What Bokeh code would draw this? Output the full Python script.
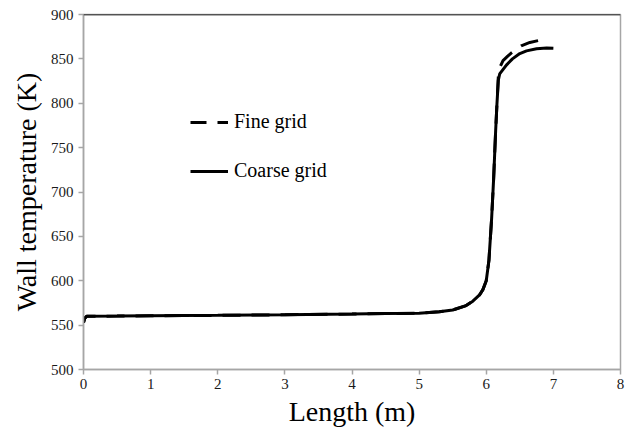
from bokeh.plotting import figure
from bokeh.models import Range1d, SingleIntervalTicker, Legend, LegendItem, Span
from bokeh.embed import file_html
from bokeh.resources import INLINE

# Coarse grid
coarse_x = [0.0, 0.02, 0.05, 0.5, 1.0, 2.0, 3.0, 4.0, 4.5, 5.0, 5.3, 5.5, 5.7, 5.8, 5.9, 5.95,
            6.0, 6.04, 6.08, 6.11, 6.14, 6.16, 6.18, 6.2, 6.24, 6.3, 6.39, 6.5, 6.6, 6.75, 6.9, 7.0]
coarse_T = [553, 558, 560, 560.2, 560.5, 561, 561.7, 562.5, 563, 563.5, 565, 567, 572, 577, 584, 590,
            600, 623, 670, 715, 769, 800, 826, 833, 837, 843, 850, 856, 859, 861.5, 862.3, 862]

# Fine grid
fine_x = [0.0, 0.02, 0.05, 0.5, 1.0, 2.0, 3.0, 4.0, 4.5, 5.0, 5.3, 5.5, 5.7, 5.8, 5.9, 5.95,
          6.0, 6.04, 6.08, 6.11, 6.14, 6.16, 6.18, 6.2, 6.25, 6.32, 6.38, 6.45, 6.53, 6.65, 6.8]
fine_T = [553, 558, 560, 560.2, 560.5, 561, 561.7, 562.5, 563, 563.5, 565, 567, 572, 577, 584, 590,
          600, 623, 670, 715, 769, 800, 830, 840, 848, 853, 857, 861, 865, 868.5, 871]

FONT = "Liberation Serif"

p = figure(width=635, height=434, output_backend="svg", toolbar_location=None,
           x_range=Range1d(0, 8), y_range=Range1d(500, 900),
           min_border_left=83, min_border_right=15, min_border_top=14, min_border_bottom=65)
p.background_fill_color = "white"
p.border_fill_color = "white"
p.outline_line_color = "#a6a6a6"
p.outline_line_width = 1.5
p.xgrid.visible = False
p.ygrid.visible = False

fine = p.line(fine_x, fine_T, line_color="black", line_width=3, line_dash="18 11",
              line_dash_offset=2)
coarse = p.line(coarse_x, coarse_T, line_color="black", line_width=3)

p.add_layout(Span(location=900, dimension="width", line_color="black", line_width=1.5))

for ax in (p.xaxis[0], p.yaxis[0]):
    ax.axis_line_color = "#a6a6a6"
    ax.axis_line_width = 1.5
    ax.major_tick_line_color = "#a6a6a6"
    ax.major_tick_line_width = 1.5
    ax.major_tick_in = 0
    ax.major_tick_out = 5
    ax.minor_tick_line_color = None
    ax.major_label_text_font = FONT
    ax.major_label_text_font_size = "15px"
    ax.major_label_text_color = "#1a1a1a"
    ax.axis_label_text_font = FONT
    ax.axis_label_text_font_size = "28px"
    ax.axis_label_text_font_style = "normal"
    ax.axis_label_text_color = "black"

p.xaxis.ticker = SingleIntervalTicker(interval=1)
p.yaxis.ticker = SingleIntervalTicker(interval=50)
p.xaxis.axis_label = "Length (m)"
p.yaxis.axis_label = "Wall temperature (K)"
p.xaxis.major_label_standoff = 4
p.yaxis.major_label_standoff = 5
p.xaxis.axis_label_standoff = 4
p.yaxis.axis_label_standoff = 6

legend = Legend(items=[LegendItem(label="Fine grid", renderers=[fine]),
                       LegendItem(label="Coarse grid", renderers=[coarse])],
                location=(107, 187), padding=0, margin=0, spacing=26,
                glyph_width=38, glyph_height=20, label_height=20, label_standoff=6,
                label_text_font=FONT, label_text_font_size="20px", label_text_color="black",
                background_fill_alpha=0, border_line_alpha=0)
p.add_layout(legend, "center")

open("out.html", "w").write(file_html(p, INLINE))
